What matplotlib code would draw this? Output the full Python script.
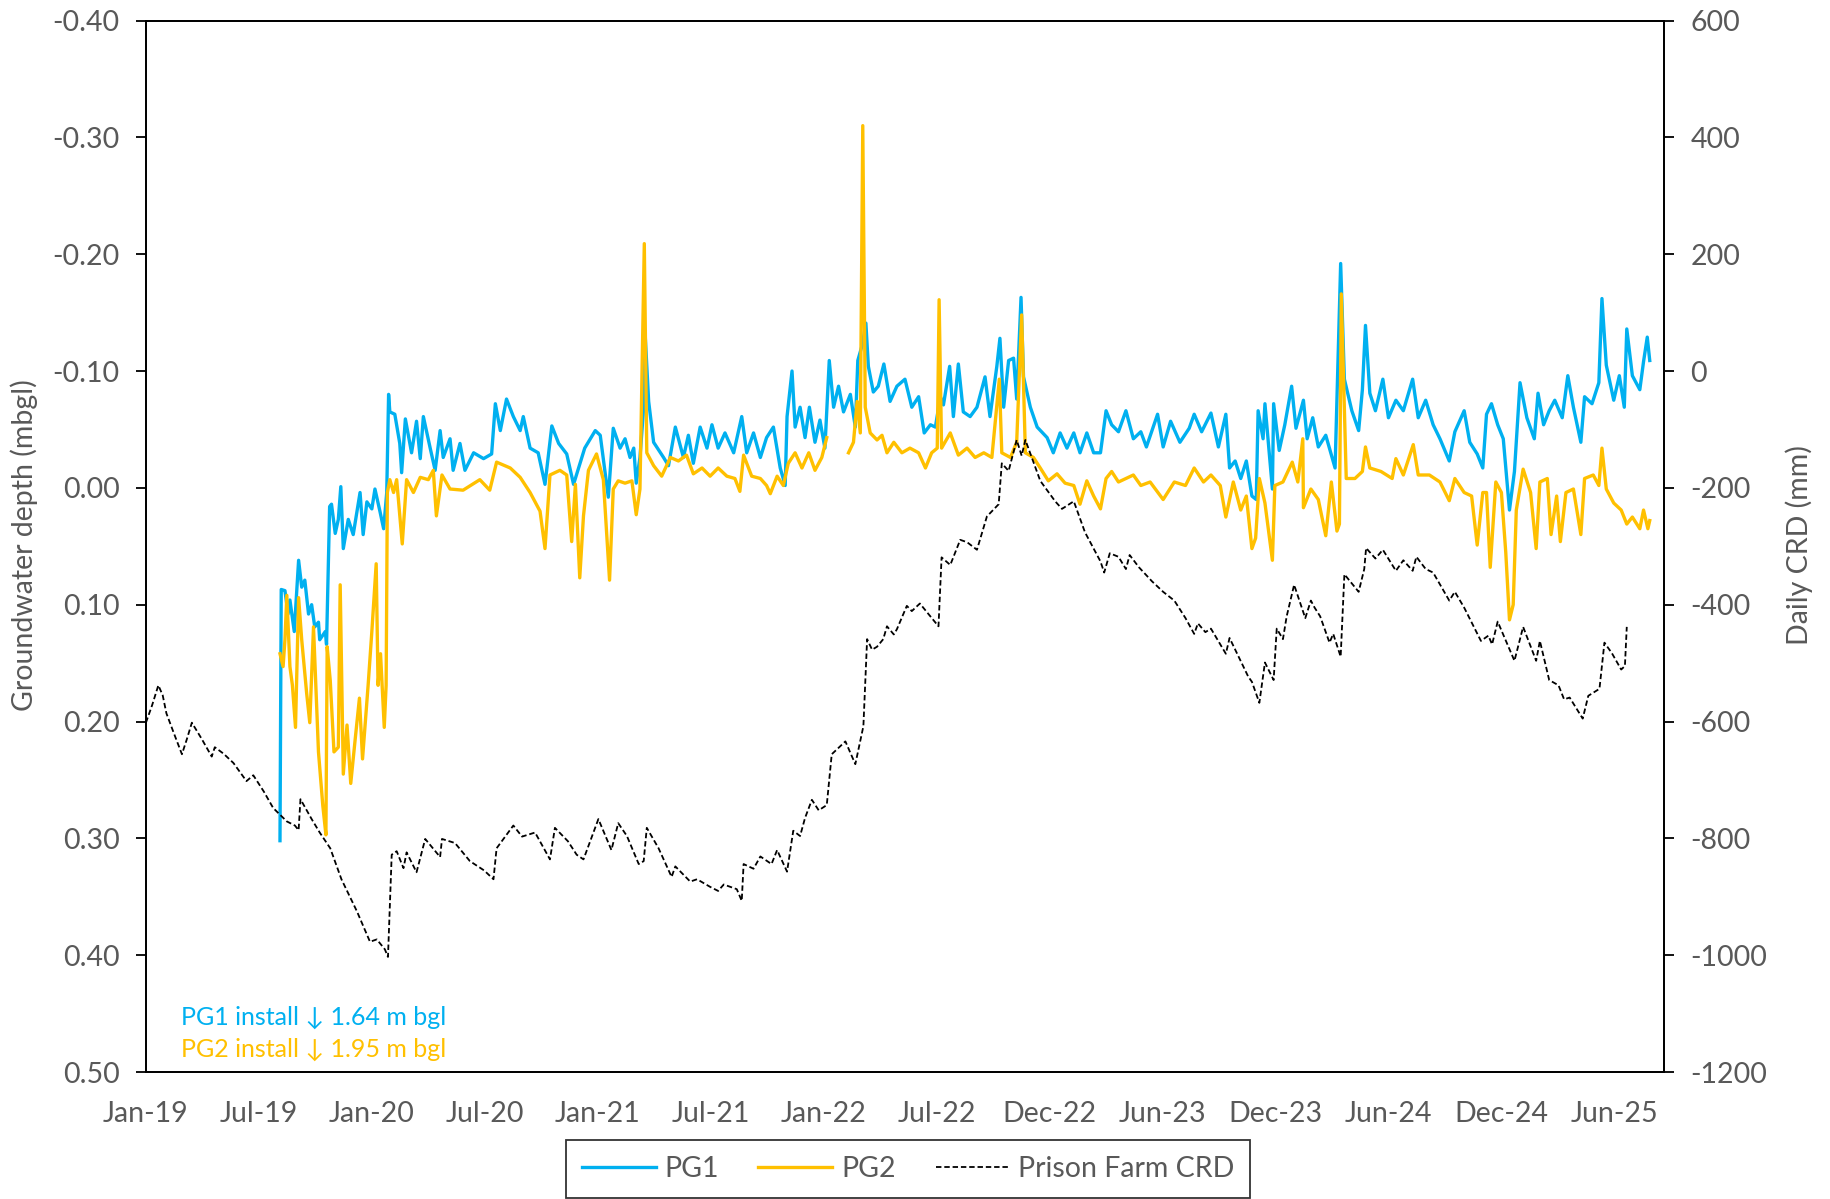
import numpy as np
import pandas as pd
import matplotlib
matplotlib.use('Agg')
import matplotlib.pyplot as plt

plt.rcParams['font.family'] = ['Lato', 'DejaVu Sans']
plt.rcParams['axes.unicode_minus'] = False

# 날짜는 첫 눈금(Jan-19) 기준 경과 일수로 적음
start = pd.Timestamp('2019-01-07')

crd_day = [0, 10, 20, 27, 33, 45, 58, 66, 74, 90, 106, 111, 125, 141, 162, 173, 190, 205, 227, 240,
           246, 249, 267, 280, 297, 315, 340, 361, 372, 385, 390, 396, 404, 415, 420, 436, 450, 474, 477, 498,
           522, 545, 560, 565, 592, 606, 627, 651, 659, 680, 694, 705, 729, 750, 761, 775, 794, 802, 807, 826,
           847, 853, 877, 888, 909, 922, 931, 952, 960, 963, 979, 990, 1008, 1017, 1033, 1043, 1054, 1062, 1073, 1084,
           1097, 1105, 1127, 1143, 1156, 1162, 1170, 1178, 1188, 1194, 1205, 1210, 1226, 1234, 1247, 1277, 1282, 1296, 1312, 1323,
           1339, 1355, 1374, 1379, 1390, 1403, 1411, 1417, 1441, 1465, 1476, 1495, 1513, 1538, 1544, 1553, 1567, 1579, 1585, 1600,
           1621, 1639, 1657, 1675, 1689, 1695, 1707, 1716, 1740, 1746, 1776, 1782, 1794, 1803, 1817, 1822, 1832, 1838, 1850, 1868,
           1877, 1883, 1892, 1907, 1913, 1925, 1931, 1954, 1963, 1966, 1981, 1993, 2014, 2026, 2041, 2047, 2062, 2074, 2100, 2109,
           2124, 2151, 2163, 2169, 2178, 2205, 2219, 2240, 2246, 2261, 2276, 2285, 2294, 2315, 2324, 2342, 2350, 2362, 2377, 2383,
           2386]
crd_mm = [-602, -572, -538, -555, -586, -620, -656, -630, -602, -630, -660, -644, -655, -671, -702, -692, -720, -748, -771, -778,
          -786, -733, -767, -790, -817, -870, -925, -977, -973, -990, -1003, -828, -822, -851, -824, -858, -801, -832, -801, -808,
          -839, -855, -870, -817, -778, -797, -790, -836, -782, -805, -828, -836, -767, -820, -774, -796, -844, -839, -782, -817,
          -866, -848, -874, -870, -883, -890, -879, -887, -907, -844, -852, -831, -844, -820, -857, -787, -796, -765, -734, -752,
          -743, -656, -634, -673, -608, -459, -477, -472, -459, -437, -451, -442, -402, -411, -398, -437, -319, -332, -289, -293,
          -306, -249, -228, -158, -171, -118, -145, -118, -188, -223, -236, -223, -276, -326, -345, -312, -318, -339, -315, -336,
          -360, -378, -393, -423, -450, -432, -447, -441, -484, -457, -523, -532, -568, -499, -529, -441, -459, -420, -366, -423,
          -393, -405, -420, -465, -450, -489, -348, -378, -339, -303, -321, -306, -342, -324, -342, -318, -339, -345, -393, -378,
          -405, -462, -453, -468, -429, -496, -438, -496, -462, -529, -538, -562, -559, -595, -556, -544, -465, -483, -511, -505,
          -438]

pg1_day = [216, 218, 224, 229, 232, 239, 243, 246, 251, 256, 262, 267, 272, 278, 280, 289, 291, 296, 299, 305,
           310, 314, 318, 326, 334, 345, 350, 356, 364, 369, 377, 383, 388, 391, 393, 401, 409, 412, 418, 428,
           436, 442, 447, 458, 466, 474, 479, 490, 495, 506, 514, 528, 544, 557, 563, 571, 581, 592, 603, 608,
           619, 632, 643, 654, 665, 678, 689, 707, 724, 732, 745, 753, 764, 772, 780, 786, 790, 796, 802, 804,
           810, 818, 834, 842, 853, 866, 874, 882, 893, 904, 912, 922, 933, 947, 960, 968, 979, 990, 1000, 1011,
           1022, 1030, 1033, 1041, 1046, 1054, 1062, 1069, 1078, 1086, 1094, 1101, 1108, 1116, 1124, 1135, 1143, 1147, 1154, 1160,
           1164, 1172, 1180, 1189, 1199, 1210, 1223, 1234, 1245, 1254, 1264, 1272, 1280, 1285, 1295, 1301, 1309, 1317, 1328, 1339,
           1352, 1360, 1371, 1376, 1382, 1390, 1398, 1403, 1410, 1414, 1425, 1436, 1452, 1462, 1473, 1484, 1495, 1505, 1516, 1527,
           1538, 1547, 1556, 1567, 1579, 1591, 1603, 1612, 1630, 1639, 1651, 1666, 1681, 1689, 1701, 1716, 1728, 1740, 1746, 1755,
           1764, 1773, 1782, 1789, 1792, 1800, 1803, 1815, 1817, 1826, 1835, 1846, 1853, 1865, 1871, 1880, 1889, 1901, 1916, 1925,
           1931, 1943, 1954, 1960, 1965, 1972, 1981, 1993, 2002, 2014, 2026, 2041, 2050, 2062, 2074, 2085, 2100, 2109, 2124, 2133,
           2145, 2154, 2160, 2168, 2178, 2187, 2197, 2205, 2214, 2225, 2237, 2243, 2252, 2261, 2270, 2282, 2291, 2300, 2312, 2318,
           2330, 2341, 2346, 2353, 2365, 2374, 2382, 2386, 2395, 2407, 2413, 2419, 2423]
pg1_depth = [0.302, 0.087, 0.088, 0.108, 0.096, 0.123, 0.088, 0.062, 0.085, 0.079, 0.108, 0.100, 0.119, 0.115, 0.130, 0.123, 0.134, 0.016, 0.014, 0.039,
             0.027, -0.001, 0.052, 0.027, 0.040, 0.004, 0.040, 0.012, 0.018, 0.001, 0.020, 0.035, 0.004, -0.080, -0.065, -0.063, -0.038, -0.013, -0.059, -0.030,
             -0.057, -0.025, -0.061, -0.034, -0.015, -0.049, -0.026, -0.042, -0.015, -0.038, -0.015, -0.030, -0.025, -0.029, -0.072, -0.049, -0.076, -0.061, -0.049, -0.061,
             -0.034, -0.030, -0.003, -0.053, -0.038, -0.029, -0.003, -0.034, -0.049, -0.045, 0.008, -0.051, -0.034, -0.042, -0.026, -0.034, -0.004, -0.026, -0.069, -0.135,
             -0.074, -0.039, -0.026, -0.019, -0.052, -0.026, -0.045, -0.021, -0.052, -0.034, -0.054, -0.034, -0.047, -0.030, -0.061, -0.030, -0.047, -0.026, -0.043, -0.052,
             -0.017, -0.002, -0.061, -0.100, -0.052, -0.069, -0.043, -0.069, -0.039, -0.058, -0.034, -0.109, -0.069, -0.087, -0.065, -0.080, -0.052, -0.109, -0.122, -0.141,
             -0.104, -0.082, -0.087, -0.106, -0.074, -0.087, -0.093, -0.069, -0.078, -0.047, -0.054, -0.052, -0.078, -0.071, -0.104, -0.061, -0.106, -0.065, -0.061, -0.069,
             -0.095, -0.061, -0.104, -0.128, -0.069, -0.109, -0.111, -0.076, -0.163, -0.095, -0.069, -0.052, -0.043, -0.030, -0.047, -0.034, -0.047, -0.030, -0.047, -0.030,
             -0.030, -0.066, -0.054, -0.048, -0.066, -0.042, -0.048, -0.035, -0.063, -0.035, -0.057, -0.039, -0.051, -0.063, -0.048, -0.064, -0.035, -0.063, -0.017, -0.023,
             -0.008, -0.023, 0.007, 0.010, -0.066, -0.042, -0.072, 0.001, -0.072, -0.032, -0.054, -0.087, -0.051, -0.075, -0.042, -0.060, -0.035, -0.045, -0.017, -0.192,
             -0.093, -0.066, -0.049, -0.084, -0.139, -0.081, -0.066, -0.093, -0.060, -0.075, -0.066, -0.093, -0.060, -0.075, -0.054, -0.042, -0.023, -0.048, -0.066, -0.039,
             -0.029, -0.017, -0.063, -0.072, -0.054, -0.042, 0.019, -0.014, -0.090, -0.060, -0.042, -0.081, -0.054, -0.066, -0.075, -0.060, -0.096, -0.069, -0.039, -0.078,
             -0.072, -0.090, -0.162, -0.105, -0.075, -0.096, -0.069, -0.136, -0.096, -0.084, -0.108, -0.129, -0.109]

pg2_day = [216, 221, 224, 227, 232, 236, 241, 246, 251, 259, 264, 270, 278, 285, 290, 292, 297, 303, 310, 313,
           318, 324, 330, 337, 344, 349, 358, 364, 371, 374, 378, 384, 387, 389, 393, 399, 404, 413, 420, 431,
           442, 455, 463, 468, 477, 490, 511, 538, 554, 565, 587, 603, 619, 635, 643, 651, 667, 678, 686, 692,
           699, 705, 713, 726, 737, 747, 753, 761, 772, 783, 790, 796, 803, 807, 818, 831, 845, 858, 871, 882,
           896, 909, 922, 936, 949, 957, 963, 976, 990, 1000, 1006, 1017, 1027, 1035, 1046, 1057, 1068, 1078, 1089, 1097,
           1100, 1132, 1140, 1146, 1151, 1155, 1159, 1167, 1178, 1186, 1194, 1205, 1218, 1231, 1245, 1256, 1266, 1275, 1278, 1282,
           1296, 1309, 1323, 1336, 1350, 1363, 1375, 1379, 1393, 1403, 1411, 1417, 1430, 1441, 1454, 1468, 1481, 1495, 1505, 1516,
           1527, 1538, 1547, 1556, 1567, 1579, 1591, 1603, 1618, 1639, 1657, 1675, 1689, 1704, 1716, 1731, 1740, 1752, 1764, 1773,
           1782, 1788, 1794, 1803, 1815, 1819, 1832, 1847, 1856, 1864, 1865, 1877, 1889, 1901, 1910, 1919, 1923, 1926, 1934, 1948,
           1960, 1965, 1972, 1990, 2008, 2014, 2026, 2042, 2050, 2068, 2085, 2100, 2109, 2124, 2136, 2145, 2154, 2160, 2166, 2175,
           2184, 2191, 2197, 2203, 2208, 2219, 2231, 2240, 2246, 2258, 2264, 2273, 2279, 2288, 2300, 2312, 2318, 2332, 2341, 2346,
           2353, 2365, 2377, 2386, 2395, 2407, 2413, 2420, 2423]
pg2_depth = [0.142, 0.153, 0.130, 0.092, 0.153, 0.169, 0.205, 0.094, 0.130, 0.176, 0.201, 0.119, 0.226, 0.272, 0.297, 0.136, 0.165, 0.226, 0.222, 0.083,
             0.245, 0.203, 0.253, 0.216, 0.180, 0.232, 0.169, 0.123, 0.065, 0.169, 0.142, 0.205, 0.169, 0.004, -0.007, 0.004, -0.007, 0.048, -0.007, 0.004,
             -0.009, -0.007, -0.015, 0.024, -0.011, 0.001, 0.002, -0.007, 0.002, -0.022, -0.017, -0.009, 0.004, 0.020, 0.052, -0.011, -0.015, -0.011, 0.046, -0.003,
             0.077, 0.024, -0.015, -0.029, -0.007, 0.079, 0.001, -0.006, -0.004, -0.006, 0.023, 0.001, -0.209, -0.030, -0.019, -0.010, -0.026, -0.023, -0.028, -0.012,
             -0.017, -0.010, -0.017, -0.010, -0.008, 0.003, -0.028, -0.010, -0.008, -0.002, 0.005, -0.010, -0.002, -0.021, -0.030, -0.017, -0.030, -0.015, -0.026, -0.043,
             np.nan, -0.030, -0.039, -0.074, -0.047, -0.310, -0.069, -0.047, -0.041, -0.045, -0.030, -0.039, -0.030, -0.034, -0.030, -0.017, -0.030, -0.034, -0.161, -0.034,
             -0.047, -0.028, -0.034, -0.026, -0.030, -0.026, -0.093, -0.030, -0.026, -0.039, -0.148, -0.030, -0.026, -0.017, -0.006, -0.012, -0.004, -0.002, 0.014, -0.006,
             0.007, 0.018, -0.008, -0.014, -0.005, -0.008, -0.011, -0.002, -0.005, 0.010, -0.005, -0.002, -0.017, -0.005, -0.011, -0.002, 0.025, -0.005, 0.019, 0.007,
             0.052, 0.043, -0.008, 0.013, 0.062, -0.002, -0.005, -0.022, -0.005, -0.042, 0.017, 0.001, 0.010, 0.041, -0.005, 0.037, 0.031, -0.166, -0.008, -0.008,
             -0.014, -0.035, -0.017, -0.014, -0.008, -0.025, -0.011, -0.037, -0.011, -0.011, -0.005, 0.011, -0.008, 0.004, 0.007, 0.049, 0.004, 0.004, 0.068, -0.005,
             0.004, 0.055, 0.113, 0.100, 0.019, -0.016, 0.004, 0.052, -0.005, -0.008, 0.040, 0.007, 0.046, 0.004, 0.001, 0.040, -0.008, -0.011, -0.002, -0.034,
             0.001, 0.013, 0.019, 0.031, 0.025, 0.035, 0.019, 0.035, 0.028]

tick_labels = ['Jan-19', 'Jul-19', 'Jan-20', 'Jul-20', 'Jan-21', 'Jul-21', 'Jan-22',
               'Jul-22', 'Dec-22', 'Jun-23', 'Dec-23', 'Jun-24', 'Dec-24', 'Jun-25']
depth_ticks = [-0.40, -0.30, -0.20, -0.10, 0.00, 0.10, 0.20, 0.30, 0.40, 0.50]
crd_ticks = [-1200, -1000, -800, -600, -400, -200, 0, 200, 400, 600]


def to_date(days):
    return start + pd.to_timedelta(np.asarray(days, dtype=float), unit='D')


grey = '#595959'
fs = 20.5
fig = plt.figure(figsize=(18.31, 11.99), dpi=100)
ax = fig.add_axes([0.0797, 0.1059, 0.8291, 0.8770])
ax2 = ax.twinx()

l1, = ax.plot(to_date(pg1_day), pg1_depth, color='#00B0F0', lw=2.4, label='PG1', zorder=2)
l2, = ax.plot(to_date(pg2_day), pg2_depth, color='#FFC000', lw=2.4, label='PG2', zorder=3)
l3, = ax2.plot(to_date(crd_day), crd_mm, color='black', lw=1.3, dashes=(3, 1.6), label='Prison Farm CRD')

ax.set_ylim(0.5, -0.4)
ax.set_yticks(depth_ticks)
ax.set_yticklabels([f'{v:.2f}' for v in depth_ticks])
ax2.set_ylim(-1200, 600)
ax2.set_yticks(crd_ticks)
ax2.set_yticklabels([str(v) for v in crd_ticks])

ax.set_xlim(to_date([0])[0], to_date([2446])[0])
ax.set_xticks(to_date(np.arange(len(tick_labels)) * 182))
ax.set_xticklabels(tick_labels)

for a in (ax, ax2):
    for s in a.spines.values():
        s.set_color('black')
        s.set_linewidth(1.3)
ax.tick_params(axis='y', direction='out', length=7, width=1.3, color='black',
               labelsize=fs, labelcolor=grey, pad=12)
ax2.tick_params(axis='y', direction='out', length=7, width=1.3, color='black',
                labelsize=fs, labelcolor=grey, pad=12)
ax.tick_params(axis='x', length=0, labelsize=fs, labelcolor=grey, pad=21)

fig.text(24 / 1831, 0.545, 'Groundwater depth (mbgl)', rotation=90, ha='center', va='center',
         fontsize=fs, color=grey)
fig.text(1799 / 1831, 0.545, 'Daily CRD (mm)', rotation=90, ha='center', va='center',
         fontsize=fs, color=grey)

fig.text(181 / 1831, 1 - 1025 / 1199, 'PG1 install \u2193 1.64 m bgl', ha='left', va='baseline',
         fontsize=18, color='#00B0F0')
fig.text(181 / 1831, 1 - 1057 / 1199, 'PG2 install \u2193 1.95 m bgl', ha='left', va='baseline',
         fontsize=18, color='#FFC000')

leg = fig.legend([l1, l2, l3], ['PG1', 'PG2', 'Prison Farm CRD'], loc='center',
                 bbox_to_anchor=(908 / 1831, 1 - 1169 / 1199), ncol=3, fontsize=fs,
                 frameon=True, fancybox=False, edgecolor='black', handlelength=2.6,
                 handletextpad=0.3, columnspacing=1.4, borderpad=0.55)
leg.get_frame().set_linewidth(1.3)
for t in leg.get_texts():
    t.set_color(grey)

fig.savefig('out.png', dpi=100, facecolor='white')
